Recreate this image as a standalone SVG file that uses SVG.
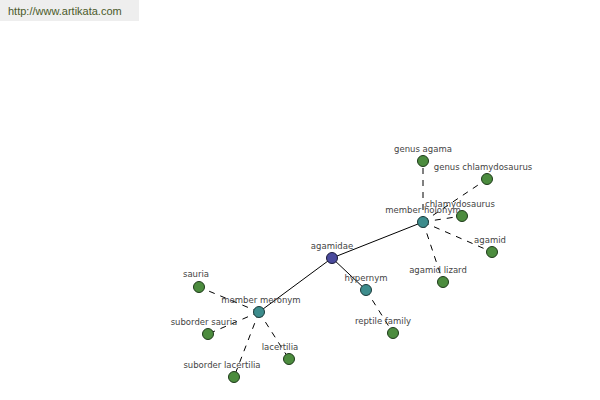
<svg xmlns="http://www.w3.org/2000/svg" width="600" height="400" viewBox="0 0 600 400">
<style>
.lbl{font-family:"DejaVu Sans","Liberation Sans",sans-serif;font-size:8.5px;fill:#444;text-anchor:middle}
.solid{stroke:#000;stroke-width:1;fill:none}
.dash{stroke:#000;stroke-width:1;fill:none;stroke-dasharray:6,6}
.leaf{fill:#4c8c3e;stroke:#1e3a1a;stroke-width:1}
.hub{fill:#3d8c8c;stroke:#1a3a3a;stroke-width:1}
.root{fill:#4a4a9c;stroke:#1a1a3a;stroke-width:1}
</style>
<rect x="0" y="0" width="600" height="400" fill="#fff"/>
<g id="header">
<rect x="0" y="0" width="139" height="21" fill="#eeeeee"/>
<text x="8" y="15" style="font-family:'Liberation Sans',Arial,sans-serif;font-size:11px;fill:#4b5a2a">http://www.artikata.com</text>
</g>
<g id="connectors">
<line class="solid" x1="332" y1="258" x2="423" y2="222"/>
<line class="solid" x1="332" y1="258" x2="259" y2="312"/>
<line class="solid" x1="332" y1="258" x2="366" y2="290"/>
<line class="dash" x1="423" y1="222" x2="423" y2="161"/>
<line class="dash" x1="423" y1="222" x2="487" y2="179"/>
<line class="dash" x1="423" y1="222" x2="462" y2="216"/>
<line class="dash" x1="423" y1="222" x2="492" y2="252"/>
<line class="dash" x1="423" y1="222" x2="443" y2="282"/>
<line class="dash" x1="366" y1="290" x2="393" y2="333"/>
<line class="dash" x1="259" y1="312" x2="199" y2="287"/>
<line class="dash" x1="259" y1="312" x2="208" y2="334"/>
<line class="dash" x1="259" y1="312" x2="234" y2="377"/>
<line class="dash" x1="259" y1="312" x2="289" y2="359"/>
</g>
<g id="agamidae"><circle class="root" cx="332" cy="258" r="5.5"/><text class="lbl" x="332" y="249">agamidae</text></g>
<g id="member-holonym"><circle class="hub" cx="423" cy="222" r="5.5"/><text class="lbl" x="423" y="213">member holonym</text></g>
<g id="hypernym"><circle class="hub" cx="366" cy="290" r="5.5"/><text class="lbl" x="366" y="281">hypernym</text></g>
<g id="member-meronym"><circle class="hub" cx="259" cy="312" r="5.5"/><text class="lbl" x="261" y="303">member meronym</text></g>
<g id="genus-agama"><circle class="leaf" cx="423" cy="161" r="5.5"/><text class="lbl" x="423" y="152">genus agama</text></g>
<g id="genus-chlamydosaurus"><circle class="leaf" cx="487" cy="179" r="5.5"/><text class="lbl" x="483" y="170">genus chlamydosaurus</text></g>
<g id="chlamydosaurus"><circle class="leaf" cx="462" cy="216" r="5.5"/><text class="lbl" x="460" y="207">chlamydosaurus</text></g>
<g id="agamid"><circle class="leaf" cx="492" cy="252" r="5.5"/><text class="lbl" x="490" y="243">agamid</text></g>
<g id="agamid-lizard"><circle class="leaf" cx="443" cy="282" r="5.5"/><text class="lbl" x="438" y="273">agamid lizard</text></g>
<g id="reptile-family"><circle class="leaf" cx="393" cy="333" r="5.5"/><text class="lbl" x="383" y="324">reptile family</text></g>
<g id="sauria"><circle class="leaf" cx="199" cy="287" r="5.5"/><text class="lbl" x="196" y="277">sauria</text></g>
<g id="suborder-sauria"><circle class="leaf" cx="208" cy="334" r="5.5"/><text class="lbl" x="204" y="325">suborder sauria</text></g>
<g id="suborder-lacertilia"><circle class="leaf" cx="234" cy="377" r="5.5"/><text class="lbl" x="222" y="368">suborder lacertilia</text></g>
<g id="lacertilia"><circle class="leaf" cx="289" cy="359" r="5.5"/><text class="lbl" x="280" y="350">lacertilia</text></g>
</svg>
